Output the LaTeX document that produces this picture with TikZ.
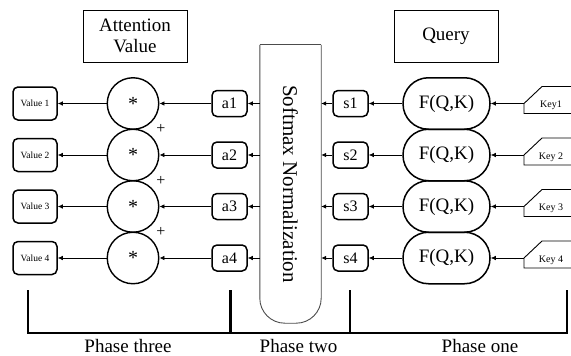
\documentclass[tikz,border=0pt]{standalone}
\usepackage{fontspec}
\setmainfont{Liberation Serif}
\usetikzlibrary{arrows.meta}
\begin{document}
\begin{tikzpicture}[x=1pt,y=-1pt,
  arr/.style={-{Latex[length=5pt,width=4.5pt]}, line width=0.75pt},
  titlebox/.style={draw, line width=1pt, minimum width=104pt, minimum height=52pt, align=center, font=\fontsize{19}{21}\selectfont},
  valbox/.style={draw, line width=1.5pt, rounded corners=5pt, minimum width=44pt, minimum height=33pt, inner sep=0pt, font=\fontsize{9.5}{11}\selectfont},
  smallbox/.style={draw, line width=1.5pt, rounded corners=5pt, minimum width=35pt, minimum height=26pt, inner sep=0pt, font=\fontsize{16}{18}\selectfont},
  mult/.style={draw, circle, line width=1.4pt, minimum size=51.5pt, inner sep=0pt, font=\fontsize{20}{20}\selectfont},
  score/.style={draw, line width=1.5pt, rounded corners=25.5pt, minimum width=87pt, minimum height=51.5pt, inner sep=0pt, font=\fontsize{19}{21}\selectfont},
  keyshape/.style={line width=0.9pt},
  keytext/.style={font=\fontsize{10}{12}\selectfont},
  plus/.style={font=\fontsize{16}{16}\selectfont},
  phase/.style={font=\fontsize{19}{21}\selectfont},
  softline/.style={line width=0.9pt, draw=black!70},
  bracket/.style={line width=1.2pt},
  divider/.style={line width=2.5pt}
]
\useasboundingbox (0,0) rectangle (571,356);

% titles
\node[titlebox] (att) at (135,36) {Attention\\Value};
\node[titlebox] (query) at (446,36) {Query};

% softmax block
\node[minimum width=61pt, minimum height=278pt, inner sep=0pt] (soft) at (290.5,184) {};
\draw[softline, rounded corners=25pt] (soft.north west) -- (soft.south west) -- (soft.south east) -- (soft.north east);
\draw[softline] (soft.north west) -- (soft.north east);
\node[rotate=-90, font=\fontsize{21}{23}\selectfont] (softtext) at (soft.center) {Softmax Normalization};

% rows
\foreach \i/\r/\kt in {1/103.5/Key1, 2/155/Key 2, 3/206.5/Key 3, 4/258/Key 4}{
  \node[valbox] (v\i) at (35,\r) {Value \i};
  \node[mult] (m\i) at (133,\r) {*};
  \node[smallbox] (a\i) at (229.5,\r) {a\i};
  \node[smallbox] (s\i) at (350.5,\r) {s\i};
  \node[score] (f\i) at (446.5,\r) {F(Q,K)};
  \coordinate (k\i) at (524,\r);
  \draw[keyshape] (573,\r-17) -- (542,\r-17) -- (k\i) -- (524,\r+10) -- (573,\r+10);
  \node[keytext] (kt\i) at (551,\r+2) {\kt};
  \draw[arr] (k\i) -- (f\i.east);
  \draw[arr] (f\i.west) -- (s\i.east);
  \draw[arr] (s\i.west) -- (s\i.west -| soft.east);
  \draw[arr] (a\i.east -| soft.west) -- (a\i.east);
  \draw[arr] (a\i.west) -- (m\i.east);
  \draw[arr] (m\i.west) -- (v\i.east);
}

% plus signs
\node[plus] (p1) at (161,129) {+};
\node[plus] (p2) at (161,180.5) {+};
\node[plus] (p3) at (161,232) {+};

% phase brackets
\coordinate (b0t) at (28,290);
\coordinate (b0b) at (28,333);
\coordinate (b3t) at (567,290);
\coordinate (b3b) at (567,333);
\coordinate (b1t) at (230.5,290);
\coordinate (b1b) at (230.5,333);
\coordinate (b2t) at (350,290);
\coordinate (b2b) at (350,333);
\draw[bracket] (b0t) -- (b0b) -- (b3b) -- (b3t);
\draw[divider] (b1t) -- (b1b);
\draw[divider] (b2t) -- (b2b);

\node[phase] (ph3) at (128,346) {Phase three};
\node[phase] (ph2) at (298.5,346) {Phase two};
\node[phase] (ph1) at (480,346) {Phase one};
\end{tikzpicture}
\end{document}
